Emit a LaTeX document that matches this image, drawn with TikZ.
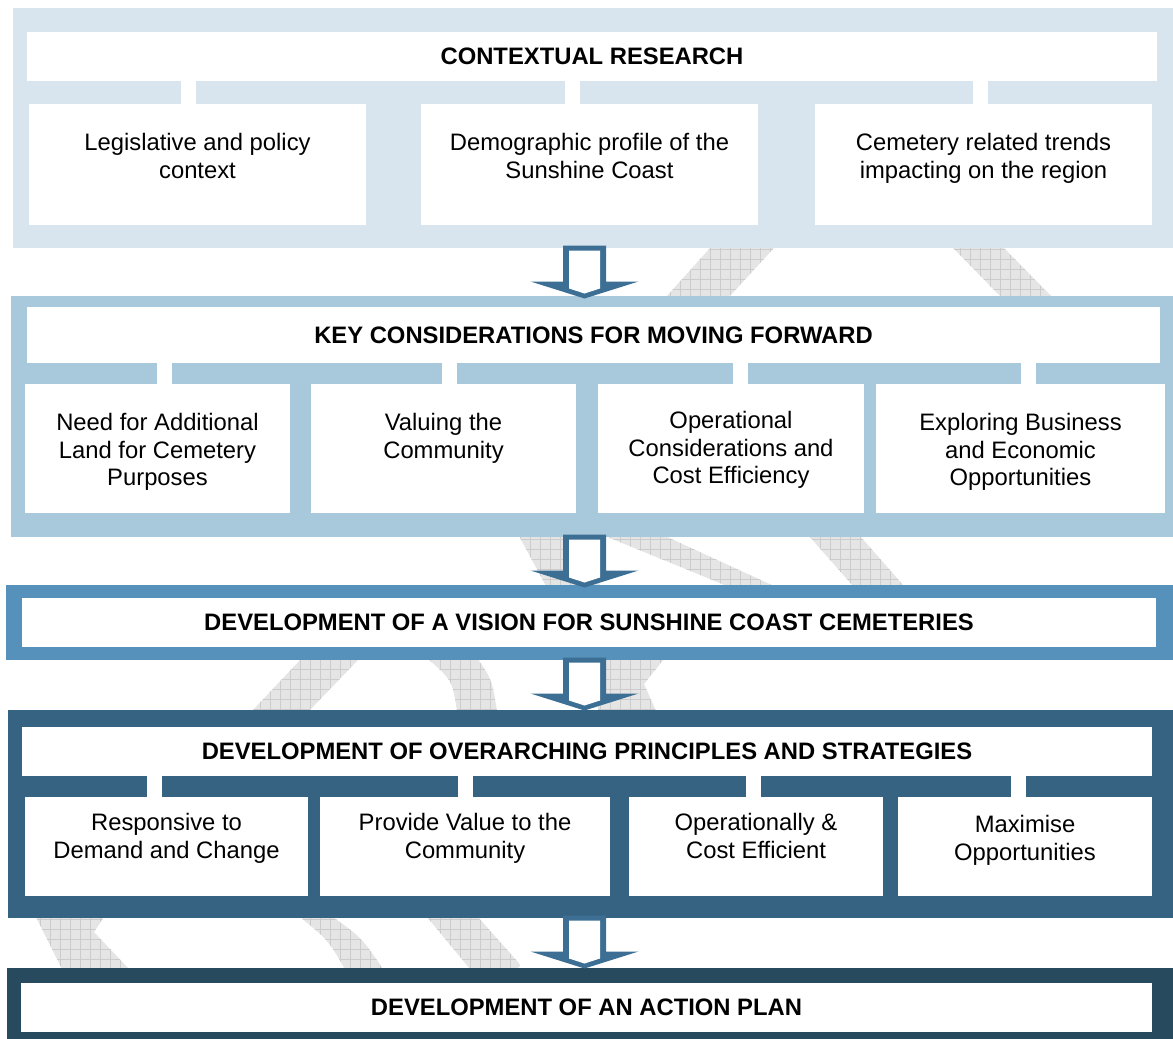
\documentclass[tikz,border=0pt]{standalone}
\usepackage{fontspec}
\setmainfont{Liberation Sans}
\usepackage{tikz}
\usetikzlibrary{fit,patterns.meta}
\definecolor{tierone}{RGB}{216,228,238}
\definecolor{tiertwo}{RGB}{168,200,220}
\definecolor{tierthree}{RGB}{85,145,186}
\definecolor{tierfour}{RGB}{55,99,131}
\definecolor{tierfive}{RGB}{40,74,95}
\definecolor{arrowblue}{RGB}{61,111,148}
\newcommand{\chartfont}{\fontsize{11.9pt}{13.7pt}\selectfont}
\tikzstyle{panel} = [inner sep=0pt, outer sep=0pt]
\tikzstyle{bar} = [fill=white, inner sep=0pt, outer sep=0pt]
\tikzstyle{bartext} = [anchor=center, inner sep=0pt, font=\chartfont\bfseries]
\tikzstyle{block} = [fill=white, inner sep=0pt, outer sep=0pt]
\tikzstyle{blocktext} = [anchor=north, align=center, inner sep=0pt,
    font=\chartfont]
\tikzstyle{link} = [draw=white, line width=7.5pt]
\tikzstyle{swoosh} = [fill=gray!20, postaction={pattern={Hatch[angle=0,
    distance=5pt, line width=0.4pt]}, pattern color=gray!40}]
\tikzstyle{arrowout} = [fill=arrowblue]
\tikzstyle{arrowin} = [fill=white]

\begin{document}
\begin{tikzpicture}[x=0.5pt, y=-0.5pt]
	\useasboundingbox (0,0) rectangle (1173,1039);

	% Grey swoosh showing between the tiers
	\path [swoosh] (711,247) -- (775,247) -- (729,297) -- (666,297) -- cycle;
	\path [swoosh] (952,247) -- (1003,247) -- (1052,297) -- (1001,297) -- cycle;
	\path [swoosh] (519,536) -- (564,536) -- (601,586) -- (546,586) -- cycle;
	\path [swoosh] (605,536) -- (665,536) -- (774,586) -- (727,586) -- cycle;
	\path [swoosh] (809,536) -- (860,536) -- (904,586) -- (853,586) -- cycle;
	\path [swoosh] (301,659) -- (359,659) -- (309,711) -- (252,711) -- cycle;
	\path [swoosh] (428,659) .. controls (452,680) .. (457,711) -- (497,711)
		.. controls (492,680) .. (478,659) -- cycle;
	\path [swoosh] (598,659) -- (664,659) -- (644,684) -- (656,711) -- (598,711) -- cycle;
	\path [swoosh] (36,917) -- (104,917) -- (94,932) -- (129,969) -- (62,969) -- cycle;
	\path [swoosh] (300,917) -- (333,917) .. controls (362,938) .. (383,969)
		-- (345,969) .. controls (328,940) .. (300,917);
	\path [swoosh] (427,917) -- (478,917) -- (518,962) .. controls (521,966) .. (516,969)
		-- (470,969) -- cycle;

	% Contextual research
	\node [panel, fill=tierone, fit={(13,8) (1173,248)}] (p1) {};
	\node [bar, fit={(27,32) (1157,81)},
		label={[bartext]center:CONTEXTUAL RESEARCH}] (t1) {};
	\node [block, fit={(29,104) (366,225)},
		label={[blocktext, yshift=-14.5pt]north:Legislative and policy\\context}] (b11) {};
	\node [block, fit={(421,104) (758,225)},
		label={[blocktext, yshift=-14.5pt]north:Demographic profile of the\\Sunshine Coast}] (b12) {};
	\node [block, fit={(815,104) (1152,225)},
		label={[blocktext, yshift=-14.5pt]north:Cemetery related trends\\impacting on the region}] (b13) {};
	\draw [link] ([xshift=-4.5pt]b11.north) -- ([xshift=-4.5pt]b11.north |- t1.south);
	\draw [link] ([xshift=-8.5pt]b12.north) -- ([xshift=-8.5pt]b12.north |- t1.south);
	\draw [link] ([xshift=-1.5pt]b13.north) -- ([xshift=-1.5pt]b13.north |- t1.south);

	% Key considerations
	\node [panel, fill=tiertwo, fit={(11,296) (1173,537)}] (p2) {};
	\node [bar, fit={(27,307) (1160,363)},
		label={[bartext]center:KEY CONSIDERATIONS FOR MOVING FORWARD}] (t2) {};
	\node [block, fit={(25,384) (290,513)},
		label={[blocktext, yshift=-14.5pt]north:Need for Additional\\Land for Cemetery\\Purposes}] (b21) {};
	\node [block, fit={(311,384) (576,513)},
		label={[blocktext, yshift=-14.5pt]north:Valuing the\\Community}] (b22) {};
	\node [block, fit={(598,384) (864,513)},
		label={[blocktext, yshift=-13.5pt]north:Operational\\Considerations and\\Cost Efficiency}] (b23) {};
	\node [block, fit={(876,384) (1165,513)},
		label={[blocktext, yshift=-14.5pt]north:Exploring Business\\and Economic\\Opportunities}] (b24) {};
	\draw [link] ([xshift=3.5pt]b21.north) -- ([xshift=3.5pt]b21.north |- t2.south);
	\draw [link] ([xshift=2.75pt]b22.north) -- ([xshift=2.75pt]b22.north |- t2.south);
	\draw [link] ([xshift=4.75pt]b23.north) -- ([xshift=4.75pt]b23.north |- t2.south);
	\draw [link] ([xshift=4pt]b24.north) -- ([xshift=4pt]b24.north |- t2.south);

	% Vision
	\node [panel, fill=tierthree, fit={(6,585) (1173,660)}] (p3) {};
	\node [bar, fit={(22,598) (1156,647)},
		label={[bartext]center:DEVELOPMENT OF A VISION FOR SUNSHINE COAST CEMETERIES}] (t3) {};

	% Principles and strategies
	\node [panel, fill=tierfour, fit={(8,710) (1173,918)}] (p4) {};
	\node [bar, fit={(22,727) (1152,776)},
		label={[bartext]center:DEVELOPMENT OF OVERARCHING PRINCIPLES AND STRATEGIES}] (t4) {};
	\node [block, fit={(25,797) (308,896)},
		label={[blocktext, yshift=-8pt]north:Responsive to\\Demand and Change}] (b41) {};
	\node [block, fit={(320,797) (610,896)},
		label={[blocktext, yshift=-8pt]north:Provide Value to the\\Community}] (b42) {};
	\node [block, fit={(629,797) (883,896)},
		label={[blocktext, yshift=-8pt]north:Operationally \&\\Cost Efficient}] (b43) {};
	\node [block, fit={(898,797) (1152,896)},
		label={[blocktext, yshift=-9pt]north:Maximise\\Opportunities}] (b44) {};
	\draw [link] ([xshift=-6pt]b41.north) -- ([xshift=-6pt]b41.north |- t4.south);
	\draw [link] ([xshift=0pt]b42.north) -- ([xshift=0pt]b42.north |- t4.south);
	\draw [link] ([xshift=-1.5pt]b43.north) -- ([xshift=-1.5pt]b43.north |- t4.south);
	\draw [link] ([xshift=-3.5pt]b44.north) -- ([xshift=-3.5pt]b44.north |- t4.south);

	% Action plan
	\node [panel, fill=tierfive, fit={(7,968) (1173,1039)}] (p5) {};
	\node [bar, fit={(21,983) (1152,1032)},
		label={[bartext]center:DEVELOPMENT OF AN ACTION PLAN}] (t5) {};

	% Block arrows between the tiers
	\coordinate (axis) at (584.5,0);
	\fill [arrowout] (p1.south -| axis) ++(-21.5,-2.5) -- ++(43,0) -- ++(0,36)
		-- ++(32.5,0) -- ++(-54,17) -- ++(-54,-17) -- ++(32.5,0) -- cycle;
	\fill [arrowin] (p1.south -| axis) ++(-15.5,2.5) -- ++(31,0) -- ++(0,38)
		-- ++(-15.5,5) -- ++(-15.5,-5) -- cycle;
	\fill [arrowout] (p2.south -| axis) ++(-21.5,-2.5) -- ++(43,0) -- ++(0,36)
		-- ++(32.5,0) -- ++(-54,17) -- ++(-54,-17) -- ++(32.5,0) -- cycle;
	\fill [arrowin] (p2.south -| axis) ++(-15.5,2.5) -- ++(31,0) -- ++(0,38)
		-- ++(-15.5,5) -- ++(-15.5,-5) -- cycle;
	\fill [arrowout] (p3.south -| axis) ++(-21.5,-2.5) -- ++(43,0) -- ++(0,36)
		-- ++(32.5,0) -- ++(-54,17) -- ++(-54,-17) -- ++(32.5,0) -- cycle;
	\fill [arrowin] (p3.south -| axis) ++(-15.5,2.5) -- ++(31,0) -- ++(0,38)
		-- ++(-15.5,5) -- ++(-15.5,-5) -- cycle;
	\fill [arrowout] (p4.south -| axis) ++(-21.5,-2.5) -- ++(43,0) -- ++(0,36)
		-- ++(32.5,0) -- ++(-54,17) -- ++(-54,-17) -- ++(32.5,0) -- cycle;
	\fill [arrowin] (p4.south -| axis) ++(-15.5,2.5) -- ++(31,0) -- ++(0,38)
		-- ++(-15.5,5) -- ++(-15.5,-5) -- cycle;
\end{tikzpicture}
\end{document}
